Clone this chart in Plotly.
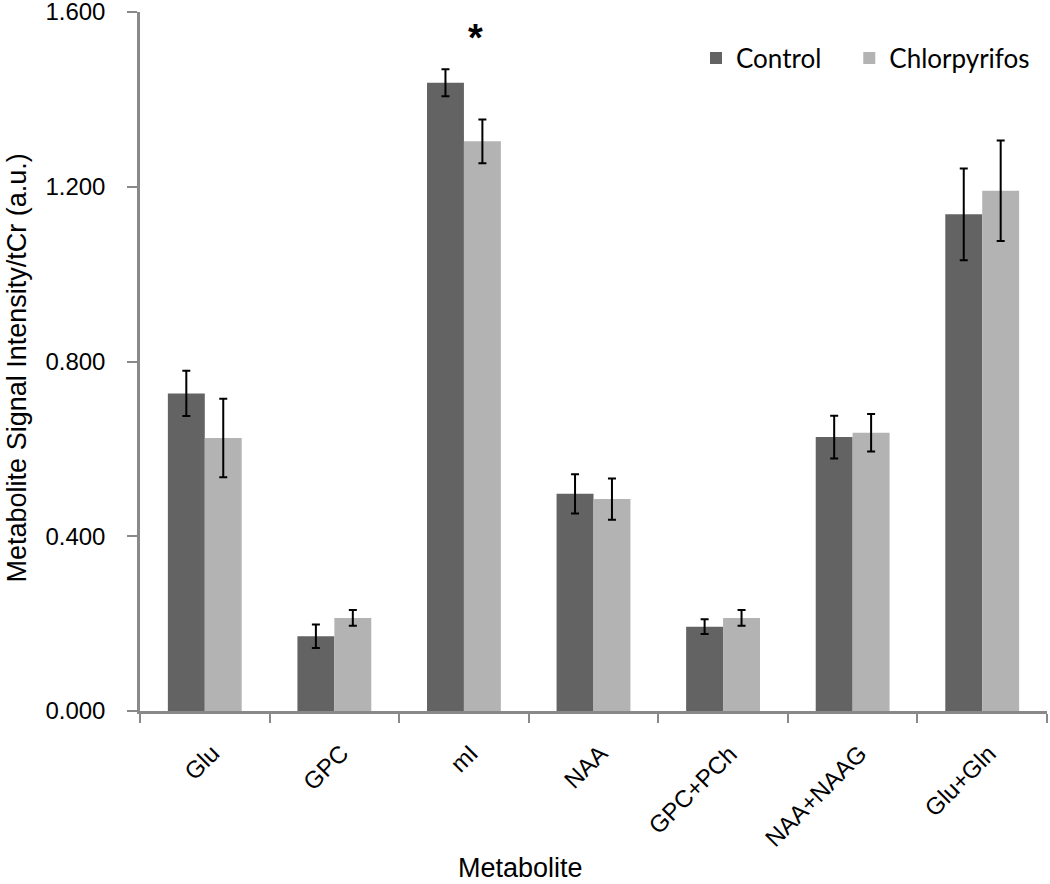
import plotly.graph_objects as go

categories = ["Glu", "GPC", "mI", "NAA", "GPC+PCh", "NAA+NAAG", "Glu+Gln"]
tick_labels = ["Glu", "GPC", "mI", "NAA", "GPC+PCh", "NAA+NAAG", "Glu+Gln"]
control = [0.727, 0.171, 1.438, 0.497, 0.193, 0.627, 1.137]
control_err = [0.052, 0.027, 0.031, 0.045, 0.017, 0.049, 0.105]
chlorpyrifos = [0.625, 0.213, 1.304, 0.485, 0.213, 0.637, 1.191]
chlorpyrifos_err = [0.090, 0.018, 0.050, 0.047, 0.018, 0.043, 0.115]
y_ticks = [0.0, 0.4, 0.8, 1.2, 1.6]

fig = go.Figure()
fig.add_trace(go.Bar(
    x=categories, y=control, name="Control", legend="legend",
    marker=dict(color="#636363", line=dict(width=0)),
    error_y=dict(type="data", array=control_err, color="black", thickness=2, width=4),
))
fig.add_trace(go.Bar(
    x=categories, y=chlorpyrifos, name="Chlorpyrifos", legend="legend2",
    marker=dict(color="#b3b3b3", line=dict(width=0)),
    error_y=dict(type="data", array=chlorpyrifos_err, color="black", thickness=2, width=4),
))

legend_font = dict(family="Lato, Open Sans, sans-serif", size=26, color="black")

annotations = [
    dict(text=lab, xref="x", yref="y", x=cat, y=0, xanchor="right", yanchor="top",
         xshift=22, yshift=-26, textangle=-45, showarrow=False, font=dict(size=24))
    for cat, lab in zip(categories, tick_labels)
]
annotations += [
    dict(text="Metabolite", xref="paper", yref="paper", x=0.419, y=-0.225,
         showarrow=False, font=dict(size=27), xanchor="center", yanchor="middle"),
    dict(text="Metabolite Signal Intensity/tCr (a.u.)", xref="paper", yref="paper",
         x=-0.136, y=0.491, textangle=-90, showarrow=False, font=dict(size=27),
         xanchor="center", yanchor="middle"),
    dict(text="<b>*</b>", xref="x", yref="y", x="mI", y=1.54, xshift=12,
         showarrow=False, font=dict(size=38), xanchor="center", yanchor="middle"),
]

fig.update_layout(
    width=1050, height=884,
    margin=dict(l=140, r=3, t=12, b=173, autoexpand=False),
    paper_bgcolor="white", plot_bgcolor="white",
    barmode="group", bargap=0.43, bargroupgap=0,
    font=dict(family="Liberation Sans, Arial, sans-serif", size=20, color="black"),
    showlegend=True,
    legend=dict(orientation="h", x=0.613, y=0.934, xanchor="left", yanchor="middle",
                font=legend_font, bgcolor="rgba(0,0,0,0)", itemwidth=30),
    legend2=dict(orientation="h", x=0.782, y=0.934, xanchor="left", yanchor="middle",
                 font=legend_font, bgcolor="rgba(0,0,0,0)", itemwidth=30),
    xaxis=dict(
        tickvals=categories, ticktext=tick_labels, showticklabels=False,
        showline=True, linecolor="#898989", linewidth=2.5,
        ticks="outside", tickson="boundaries", ticklen=9, tickcolor="#898989", tickwidth=2,
        showgrid=False, zeroline=False, automargin=False,
    ),
    yaxis=dict(
        range=[0, 1.6], tickvals=y_ticks, tickformat=".3f",
        showline=True, linecolor="#898989", linewidth=2.5,
        ticks="outside", ticklen=10, tickcolor="#898989", tickwidth=2,
        ticklabelstandoff=17, ticklabeloverflow="allow",
        tickfont=dict(size=24), showgrid=False, zeroline=False, automargin=False,
    ),
    annotations=annotations,
)

fig.write_html("out.html", config={"displayModeBar": False},
               post_script="document.body.style.margin='0';")
